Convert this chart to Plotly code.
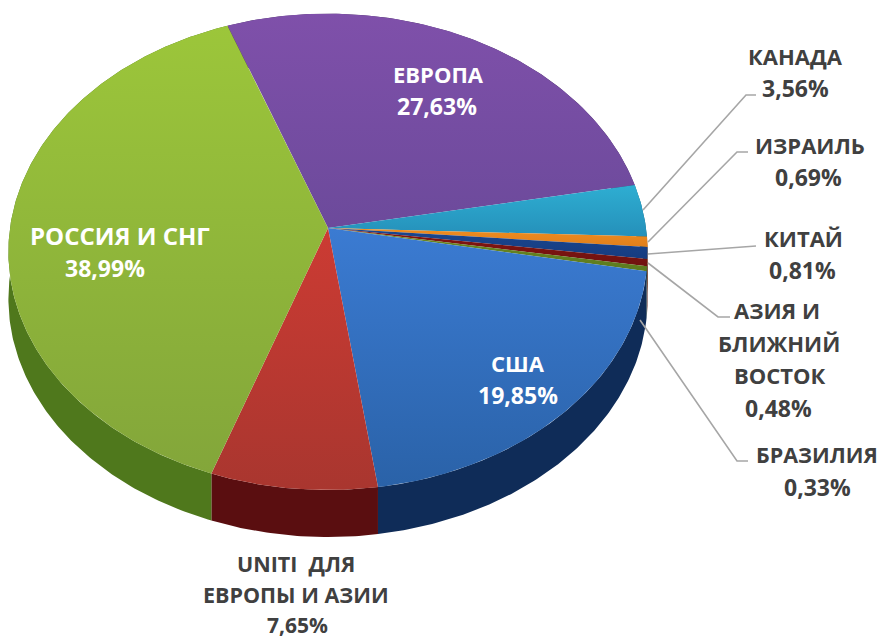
import numpy as np
import plotly.graph_objects as go

categories = ["ЕВРОПА", "КАНАДА", "ИЗРАИЛЬ", "КИТАЙ", "АЗИЯ И БЛИЖНИЙ ВОСТОК", "БРАЗИЛИЯ", "США", "UNITI ДЛЯ ЕВРОПЫ И АЗИИ", "РОССИЯ И СНГ"]
values = [27.63, 3.56, 0.69, 0.81, 0.48, 0.33, 19.85, 7.65, 38.99]

top_colors = [("#6c4a9b", "#7f50aa"), ("#2590ba", "#2eaed2"), ("#e07f1c", "#ef8d20"), ("#163c80", "#1a4790"),
              ("#701210", "#861510"), ("#5c7a1e", "#6d8a22"), ("#2a62a8", "#3b7bd2"), ("#a9362f", "#cc3b33"), ("#83a63a", "#9cc63a")]
side_colors = ["#452a60", "#14627a", "#8a4e10", "#0c2450", "#4a0a08", "#3a4c12", "#0f2c58", "#5a0e10", "#4f781c"]

# Perspective disc geometry, in pixels of an 880x639 canvas
CX, CY, A, B, K, DEPTH, START = 328, 228, 318, 235.8, 0.1, 47, -20.2


def project(cw_deg):
    t = np.radians(90 - cw_deg)
    r = 1 / (1 + K * np.sin(t))
    return CX + A * np.cos(t) * r, CY - B * np.sin(t) * r


edges = START + np.concatenate([[0], np.cumsum(values)]) * 3.6
fig = go.Figure()

for i, cat in enumerate(categories):
    th = np.linspace(edges[i], edges[i + 1], max(int(values[i] * 6), 4))
    x, y = project(th)
    fig.add_trace(go.Scatter(x=np.concatenate([x, x[::-1]]), y=np.concatenate([y, y[::-1] + DEPTH]),
                             mode="lines", line=dict(width=0), fill="toself", fillcolor=side_colors[i],
                             hoverinfo="skip", showlegend=False))

for i, cat in enumerate(categories):
    th = np.linspace(edges[i], edges[i + 1], max(int(values[i] * 6), 4))
    x, y = project(th)
    c1, c2 = top_colors[i]
    fig.add_trace(go.Scatter(x=np.concatenate([[CX], x, [CX]]), y=np.concatenate([[CY], y, [CY]]),
                             mode="lines", line=dict(width=0), fill="toself",
                             fillgradient=dict(type="vertical", colorscale=[[0, c1], [1, c2]]),
                             name=cat, hoverinfo="name", showlegend=False))

leaders = [(643, 210, 746, 95, 756),
           (648, 242, 737, 152, 748),
           (648, 254, 748, 246, 756),
           (648, 263, 718, 317, 730),
           (640, 320, 737, 461, 748)]
for x0, y0, x1, y1, x2 in leaders:
    fig.add_trace(go.Scatter(x=[x0, x1, x2], y=[y0, y1, y1], mode="lines",
                             line=dict(color="#a6a6a6", width=1.6), hoverinfo="skip", showlegend=False))


def pct(v):
    return f"{v:.2f}".replace(".", ",") + "%"


label_lines = [
    (0, ["ЕВРОПА"], [(438, 74), (437, 106)], "white", 22, 23),
    (1, ["КАНАДА"], [(795, 56), (795, 88)], "#404040", 22, 23),
    (2, ["ИЗРАИЛЬ"], [(810, 145), (808, 177)], "#404040", 22, 23),
    (3, ["КИТАЙ"], [(803, 238), (802, 270)], "#404040", 22, 23),
    (4, ["АЗИЯ И", "БЛИЖНИЙ", "ВОСТОК"], [(777, 310), (779, 343), (780, 375), (778, 408)], "#404040", 22, 23),
    (5, ["БРАЗИЛИЯ"], [(817, 454), (817, 487)], "#404040", 21.5, 23),
    (6, ["США"], [(518, 363), (518, 395)], "white", 22, 23),
    (7, ["UNITI  ДЛЯ", "ЕВРОПЫ И АЗИИ"], [(296, 563), (296, 594), (297, 625)], "#404040", 21.5, 21),
    (8, ["РОССИЯ И СНГ"], [(120, 235), (105, 268)], "white", 24, 23),
]
annotations = []
for idx, lines, pos, col, name_size, pct_size in label_lines:
    all_lines = lines + [pct(values[idx])]
    for j, (text, (px, py)) in enumerate(zip(all_lines, pos)):
        size = pct_size if j == len(all_lines) - 1 else name_size
        annotations.append(dict(x=px, y=py, xref="x", yref="y", text=f"<b>{text}</b>", showarrow=False,
                                xanchor="center", yanchor="middle",
                                font=dict(family="Open Sans, sans-serif", size=size, color=col)))

fig.update_layout(width=880, height=639, margin=dict(l=0, r=0, t=0, b=0),
                  paper_bgcolor="white", plot_bgcolor="white", annotations=annotations,
                  xaxis=dict(range=[0, 880], visible=False, fixedrange=True),
                  yaxis=dict(range=[639, 0], visible=False, fixedrange=True))
fig.write_html("out.html", config={"displayModeBar": False},
               post_script="document.body.style.margin='0';document.body.style.overflow='hidden';")
